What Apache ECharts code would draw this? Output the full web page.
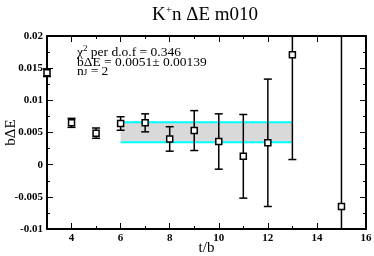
<!DOCTYPE html>
<html><head><meta charset="utf-8">
<script src="https://cdn.jsdelivr.net/npm/echarts@6/dist/echarts.min.js"></script>
<style>html,body{margin:0;padding:0;background:#fff}#c{width:374px;height:256px}</style>
</head><body><div id="c"></div>
<script>
var tValues = [3, 4, 5, 6, 7, 8, 9, 10, 11, 12, 13, 15];
var dE = [0.0143, 0.0065, 0.0049, 0.0064, 0.0065, 0.0040, 0.0053, 0.0036, 0.0013, 0.0034, 0.0171, -0.0065];
var dEerr = [0.0006, 0.0007, 0.0008, 0.00105, 0.0014, 0.0019, 0.0031, 0.0043, 0.0065, 0.0099, 0.0163, 0.03];
var bandT = [6, 13];
var bandLo = 0.0035;
var bandHi = 0.0066;
var xMajor = [4, 6, 8, 10, 12, 14, 16];
var xMinor = [3, 5, 7, 9, 11, 13, 15];
var FONT = 'Liberation Serif';

var pts = tValues.map(function (t, i) { return [t, dE[i], dEerr[i]]; });

function fmtY(v) { return String(parseFloat(v.toFixed(4))); }

var chart = echarts.init(document.getElementById('c'), null, {renderer: 'canvas'});
var base = {min: 3, max: 16, type: 'value', gridIndex: 0, splitLine: {show: false}};
function xa(pos, major, showLabel, showLine) {
  return Object.assign({}, base, {
    position: pos,
    axisLine: {show: showLine, onZero: false, lineStyle: {color: '#000', width: 2}},
    axisTick: {show: true, inside: true, length: major ? 6 : 3, customValues: major ? xMajor : xMinor, lineStyle: {color: '#000', width: 1}},
    axisLabel: showLabel ? {show: true, customValues: xMajor, color: '#000', fontFamily: FONT, fontWeight: 'bold', fontSize: 11, margin: 4} : {show: false},
    name: showLabel ? 't/b' : '',
    nameLocation: 'middle', nameGap: 12, nameMoveOverlap: false,
    nameTextStyle: {fontFamily: FONT, fontSize: 15, color: '#000'}
  });
}
function ya(pos, showLabel) {
  return {
    type: 'value', min: -0.01, max: 0.02, interval: 0.005, position: pos,
    splitLine: {show: false},
    axisLine: {show: true, onZero: false, lineStyle: {color: '#000', width: 2}},
    axisTick: {show: true, inside: true, length: 6, lineStyle: {color: '#000', width: 1}},
    minorTick: {show: true, splitNumber: 2, length: 3, lineStyle: {color: '#000', width: 1}},
    axisLabel: showLabel ? {show: true, formatter: fmtY, color: '#000', fontFamily: FONT, fontWeight: 'bold', fontSize: 11, margin: 4} : {show: false},
    name: showLabel ? 'bΔE' : '',
    nameLocation: 'middle', nameGap: 28, nameMoveOverlap: false,
    nameTextStyle: {fontFamily: FONT, fontSize: 15, color: '#000'}
  };
}
var rt = {fontFamily: FONT, fontSize: 13.5, fontWeight: 'normal', color: '#000'};
var rs = {fontFamily: FONT, fontSize: 9, fontWeight: 'normal', color: '#000'};

var option = {
  animation: false,
  backgroundColor: '#fff',
  title: [
    {left: 152, top: 5, padding: 0, text: '{a|K}{s|+}{a|n ΔE m010}',
      textStyle: {fontWeight: 'normal', rich: {a: {fontFamily: FONT, fontSize: 19, fontWeight: 'normal', color: '#000'}, s: {fontFamily: FONT, fontSize: 11, fontWeight: 'normal', color: '#000', padding: [0, 0, 9, 0]}}}},
    {left: 77, top: 44, padding: 0, text: '{a|χ}{s|2}{a| per d.o.f = 0.346}',
      textStyle: {fontWeight: 'normal', rich: {a: rt, s: Object.assign({}, rs, {padding: [0, 0, 8, 0]})}}},
    {left: 77, top: 55, padding: 0, text: 'bΔE = 0.0051± 0.00139',
      textStyle: rt},
    {left: 77, top: 64, padding: 0, text: '{a|n}{s|J}{a| = 2}',
      textStyle: {fontWeight: 'normal', rich: {a: rt, s: Object.assign({}, rs, {padding: [4, 0, 0, 0]})}}}
  ],
  grid: {left: 47, right: 8, top: 36, bottom: 27, containLabel: false, outerBoundsMode: 'none'},
  xAxis: [xa('bottom', true, true, true), xa('bottom', false, false, false), xa('top', true, false, true), xa('top', false, false, false)],
  yAxis: [ya('left', true), ya('right', false)],
  series: [
    {
      type: 'custom', xAxisIndex: 0, yAxisIndex: 0, z: 1,
      data: [[bandT[0], bandLo, bandT[1], bandHi]],
      renderItem: function (params, api) {
        var a = api.coord([api.value(0), api.value(1)]);
        var b = api.coord([api.value(2), api.value(3)]);
        return {type: 'group', children: [
          {type: 'rect', shape: {x: a[0], y: b[1], width: b[0] - a[0], height: a[1] - b[1]}, style: {fill: '#d9d9d9'}},
          {type: 'line', shape: {x1: a[0], y1: b[1], x2: b[0], y2: b[1]}, style: {stroke: '#00ffff', lineWidth: 2}},
          {type: 'line', shape: {x1: a[0], y1: a[1], x2: b[0], y2: a[1]}, style: {stroke: '#00ffff', lineWidth: 2}}
        ]};
      }
    },
    {
      type: 'custom', xAxisIndex: 0, yAxisIndex: 0, z: 3, clip: false,
      data: pts,
      renderItem: function (params, api) {
        var cs = params.coordSys;
        var x = api.value(0), y = api.value(1), e = api.value(2);
        var p1 = api.coord([x, y + e]), p2 = api.coord([x, y - e]);
        var top = cs.y, bot = cs.y + cs.height;
        var y1 = Math.max(p1[1], top), y2 = Math.min(p2[1], bot);
        var w = 4, ch = [];
        ch.push({type: 'line', shape: {x1: p1[0], y1: y1, x2: p1[0], y2: y2}, style: {stroke: '#000', lineWidth: 1.5}});
        if (p1[1] >= top) ch.push({type: 'line', shape: {x1: p1[0] - w, y1: p1[1], x2: p1[0] + w, y2: p1[1]}, style: {stroke: '#000', lineWidth: 1.5}});
        if (p2[1] <= bot) ch.push({type: 'line', shape: {x1: p2[0] - w, y1: p2[1], x2: p2[0] + w, y2: p2[1]}, style: {stroke: '#000', lineWidth: 1.5}});
        return {type: 'group', children: ch};
      }
    },
    {
      type: 'scatter', xAxisIndex: 0, yAxisIndex: 0, z: 4, clip: false,
      symbol: 'rect', symbolSize: 6,
      itemStyle: {color: '#fff', borderColor: '#000', borderWidth: 1.5, opacity: 1},
      data: pts.map(function (p) { return [p[0], p[1]]; })
    }
  ]
};
chart.setOption(option);
</script></body></html>
